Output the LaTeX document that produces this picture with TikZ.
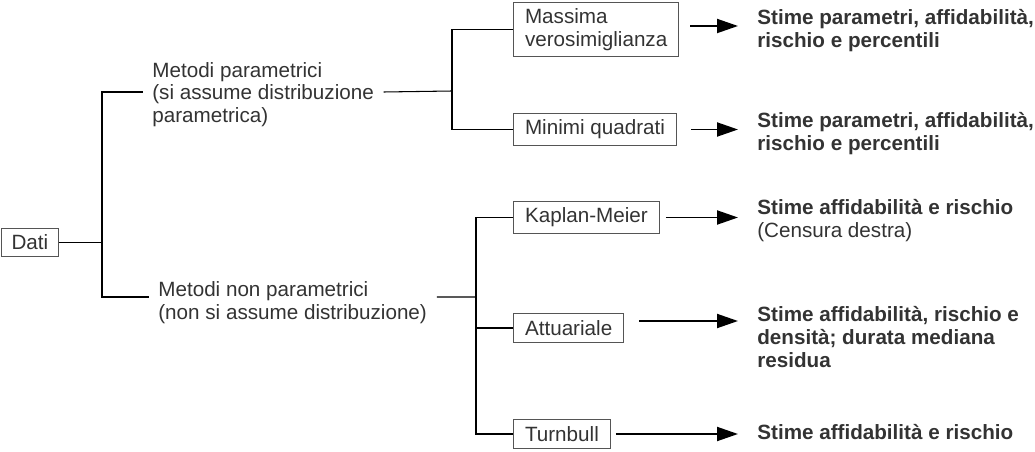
\documentclass[tikz,border=0pt]{standalone}
\usepackage{fontspec}
\setmainfont{Liberation Sans}
\usetikzlibrary{arrows.meta}
\definecolor{grigiotesto}{HTML}{333333}
\definecolor{bordo}{HTML}{555555}
\newcommand{\caratt}{\fontsize{11.75pt}{12.9pt}\selectfont}
\tikzset{
  scatola/.style={draw=bordo, line width=0.6pt, align=left, inner xsep=0.23cm, inner ysep=0.13cm, anchor=west},
  testo/.style={align=left, anchor=west, inner xsep=0.19cm, inner ysep=0pt},
  esito/.style={align=left, anchor=north west, inner xsep=0.38cm, inner ysep=0pt, font=\caratt\bfseries},
  ramo/.style={line width=0.6pt},
  freccia/.style={line width=1.1pt, -{Triangle[length=0.42cm, width=0.28cm]}},
}

\begin{document}
\begin{tikzpicture}[x=1cm, y=1cm, font=\caratt, text=grigiotesto]
  \useasboundingbox (0,0) rectangle (20.7,-9.04);

  % dati e metodi
  \node[scatola, inner xsep=0.2cm] (dati) at (0.02,-4.85) {Dati};
  \coordinate (nodo1) at (2.04,-4.85);
  \node[testo] (par) at (2.85,-1.89) {Metodi parametrici\\(si assume distribuzione\\parametrica)};
  \node[testo] (npar) at (2.97,-6.05) {Metodi non parametrici\\(non si assume distribuzione)};
  \coordinate (nodo2) at (9.04,-1.82);
  \coordinate (nodo3) at (9.52,-5.94);

  % stimatori
  \node[scatola] (mv) at (10.26,-0.59) {Massima\\verosimiglianza};
  \node[scatola] (mq) at (10.26,-2.59) {Minimi quadrati};
  \node[scatola] (km) at (10.26,-4.35) {Kaplan-Meier};
  \node[scatola] (att) at (10.26,-6.56) {Attuariale};
  \node[scatola] (tb) at (10.26,-8.68) {Turnbull};

  % risultati
  \node[esito] (r1) at (14.76,-0.19) {Stime parametri, affidabilità,\\rischio e percentili};
  \node[esito] (r2) at (14.76,-2.25) {Stime parametri, affidabilità,\\rischio e percentili};
  \node[esito] (r3) at (14.76,-3.99) {Stime affidabilità e rischio\\\mdseries(Censura destra)};
  \node[esito] (r4) at (14.76,-6.13) {Stime affidabilità, rischio e\\densità; durata mediana\\residua};
  \node[esito] (r5) at (14.76,-8.49) {Stime affidabilità e rischio};

  \draw[ramo] (dati.east) -- (nodo1) |- ([yshift=0.05cm]par.west);
  \draw[ramo] (nodo1) |- ([yshift=0.11cm]npar.west);
  \draw[ramo] ([yshift=0.05cm]par.east) -- (nodo2);
  \draw[ramo] (mv.west) -| (nodo2) |- (mq.west);
  \draw[ramo] ([yshift=0.11cm]npar.east) -- (nodo3);
  \draw[ramo] (km.west) -| (nodo3) |- (tb.west);
  \draw[ramo] (nodo3) |- (att.west);

  \draw[freccia, shorten <=0.22cm] ([yshift=0.07cm]mv.east) -- ([yshift=0.07cm]mv.east -| r1.west);
  \draw[freccia, shorten <=0.28cm] (mq.east) -- (mq.east -| r2.west);
  \draw[freccia, shorten <=0.12cm] (km.east) -- (km.east -| r3.west);
  \draw[freccia, shorten <=0.3cm] ([yshift=0.14cm]att.east) -- ([yshift=0.14cm]att.east -| r4.west);
  \draw[freccia, shorten <=0.1cm] (tb.east) -- (tb.east -| r5.west);
\end{tikzpicture}
\end{document}
